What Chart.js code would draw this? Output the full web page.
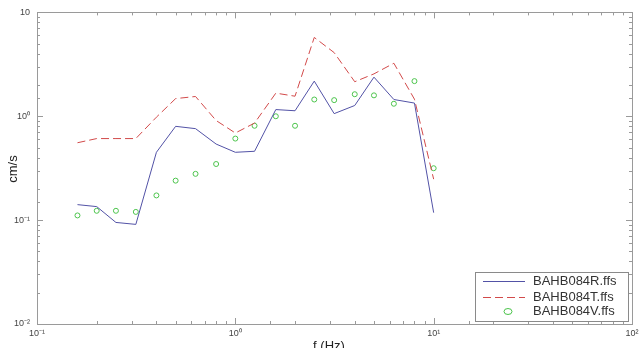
<!DOCTYPE html>
<html>
<head>
<meta charset="utf-8">
<script src="https://cdn.jsdelivr.net/npm/chart.js@4"></script>
<style>
  html, body { margin: 0; padding: 0; background: #fff; }
  #wrap { width: 643px; height: 348px; }
</style>
</head>
<body>
<div id="wrap"><canvas id="chart" width="643" height="348"></canvas></div>
<script>
// frekvenciák (Hz) és a három komponens spektruma (cm/s)
const freqs = [0.16, 0.2, 0.25, 0.315, 0.4, 0.5, 0.63, 0.8, 1.0, 1.25, 1.6, 2.0, 2.5, 3.15, 4.0, 5.0, 6.3, 8.0, 10.0];
const seriesR = [0.141, 0.135, 0.095, 0.091, 0.45, 0.80, 0.76, 0.54, 0.45, 0.46, 1.16, 1.13, 2.18, 1.06, 1.27, 2.38, 1.45, 1.34, 0.118];
const seriesT = [0.556, 0.61, 0.61, 0.61, 0.98, 1.48, 1.55, 0.91, 0.69, 0.86, 1.67, 1.56, 5.74, 4.1, 2.15, 2.56, 3.24, 1.46, 0.248];
const seriesV = [0.111, 0.123, 0.123, 0.12, 0.173, 0.24, 0.279, 0.347, 0.61, 0.81, 1.0, 0.81, 1.45, 1.43, 1.63, 1.59, 1.32, 2.18, 0.316];
const seriesNames = ['BAHB084R.ffs', 'BAHB084T.ffs', 'BAHB084V.ffs'];
const xTickLabels = {'-1': '10⁻¹', '0': '10⁰', '1': '10¹', '2': '10²'};
const yTickLabels = {'-2': '10⁻²', '-1': '10⁻¹', '0': '10⁰', '1': '10'};
const xTitle = 'f (Hz)';
const yTitle = 'cm/s';

const colR = '#5252a6';
const colT = '#d24a4a';
const colV = '#4cc44c';
const fontFam = '"Liberation Sans", Arial, sans-serif';

function toPoints(vals) {
    return freqs.map((f, i) => ({x: f, y: vals[i]}));
}

function decade(v) {
    const e = Math.log10(v);
    return Math.abs(e - Math.round(e)) < 1e-6 ? Math.round(e) : null;
}

// belső tick-ek, keret és tengelyfeliratok, MATLAB stílusban
const insideTicks = {
    id: 'insideTicks',
    afterDatasetsDraw(chart) {
        const ctx = chart.ctx;
        const a = chart.chartArea;
        const xs = chart.scales.x, ys = chart.scales.y;
        ctx.save();
        ctx.strokeStyle = '#9a9a9a';
        ctx.lineWidth = 1;
        ctx.beginPath();
        xs.ticks.forEach(t => {
            const px = Math.round(xs.getPixelForValue(t.value)) + 0.5;
            const len = decade(t.value) !== null ? 6 : 3;
            ctx.moveTo(px, a.bottom); ctx.lineTo(px, a.bottom - len);
            ctx.moveTo(px, a.top); ctx.lineTo(px, a.top + len);
        });
        ys.ticks.forEach(t => {
            const py = Math.round(ys.getPixelForValue(t.value)) + 0.5;
            const len = decade(t.value) !== null ? 6 : 3;
            ctx.moveTo(a.left, py); ctx.lineTo(a.left + len, py);
            ctx.moveTo(a.right, py); ctx.lineTo(a.right - len, py);
        });
        ctx.stroke();
        ctx.strokeRect(Math.round(a.left) + 0.5, Math.round(a.top) + 0.5,
                       Math.round(a.right - a.left), Math.round(a.bottom - a.top));

        ctx.fillStyle = '#222';
        ctx.font = '13px ' + fontFam;
        ctx.textAlign = 'center';
        ctx.textBaseline = 'top';
        ctx.fillText(xTitle, 329, 340);
        ctx.translate(13, 169);
        ctx.rotate(-Math.PI / 2);
        ctx.textBaseline = 'middle';
        ctx.fillText(yTitle, 0, 0);
        ctx.restore();
    }
};

// jelmagyarázat a jobb alsó sarokban
const boxLegend = {
    id: 'boxLegend',
    afterDraw(chart) {
        const ctx = chart.ctx;
        const a = chart.chartArea;
        const w = 153, h = 49;
        const x0 = a.right - 4 - w, y0 = a.bottom - 3 - h;
        ctx.save();
        ctx.fillStyle = '#fff';
        ctx.fillRect(x0, y0, w, h);
        ctx.strokeStyle = '#8a8a8a';
        ctx.lineWidth = 1;
        ctx.strokeRect(x0 + 0.5, y0 + 0.5, w, h);
        ctx.font = '13px ' + fontFam;
        ctx.fillStyle = '#333';
        ctx.textBaseline = 'middle';
        const rows = [y0 + 9, y0 + 25, y0 + 39];
        chart.data.datasets.forEach((ds, i) => {
            const ry = rows[i] + 0.5;
            ctx.strokeStyle = ds.borderColor;
            if (i < 2) {
                ctx.setLineDash(ds.borderDash || []);
                ctx.beginPath();
                ctx.moveTo(x0 + 8, ry); ctx.lineTo(x0 + 50, ry);
                ctx.stroke();
                ctx.setLineDash([]);
            } else {
                ctx.beginPath();
                ctx.ellipse(x0 + 33, ry, 4, 3, 0, 0, Math.PI * 2);
                ctx.stroke();
            }
            ctx.fillText(ds.label, x0 + 58, ry);
        });
        ctx.restore();
    }
};

const ctx = document.getElementById('chart').getContext('2d');
const chart = new Chart(ctx, {
    type: 'line',
    data: {
        datasets: [
            {
                label: seriesNames[0],
                data: toPoints(seriesR),
                borderColor: colR,
                borderWidth: 1,
                pointRadius: 0,
                fill: false
            },
            {
                label: seriesNames[1],
                data: toPoints(seriesT),
                borderColor: colT,
                borderWidth: 1,
                borderDash: [8, 4],
                pointRadius: 0,
                fill: false
            },
            {
                label: seriesNames[2],
                data: toPoints(seriesV),
                borderColor: colV,
                borderWidth: 1,
                showLine: false,
                pointStyle: 'circle',
                pointRadius: 2.5,
                pointBackgroundColor: 'rgba(0,0,0,0)',
                pointBorderColor: colV,
                pointBorderWidth: 1
            }
        ]
    },
    options: {
        responsive: false,
        animation: false,
        layout: { padding: { top: 11, right: 11, left: 0, bottom: 0 } },
        plugins: {
            legend: { display: false },
            tooltip: { enabled: false }
        },
        scales: {
            x: {
                type: 'logarithmic',
                min: 0.1,
                max: 100,
                grid: { display: false, drawTicks: false },
                border: { display: false },
                ticks: {
                    autoSkip: false,
                    maxRotation: 0,
                    padding: 4,
                    color: '#444',
                    font: { size: 9, family: fontFam },
                    callback: v => {
                        const d = decade(v);
                        return d === null ? '' : xTickLabels[d];
                    }
                },
                afterFit: s => { s.height = 24; }
            },
            y: {
                type: 'logarithmic',
                min: 0.01,
                max: 10,
                grid: { display: false, drawTicks: false },
                border: { display: false },
                ticks: {
                    autoSkip: false,
                    padding: 7,
                    color: '#444',
                    font: { size: 9, family: fontFam },
                    callback: v => {
                        const d = decade(v);
                        return d === null ? '' : yTickLabels[d];
                    }
                },
                afterFit: s => { s.width = 37; }
            }
        }
    },
    plugins: [insideTicks, boxLegend]
});
</script>
</body>
</html>
